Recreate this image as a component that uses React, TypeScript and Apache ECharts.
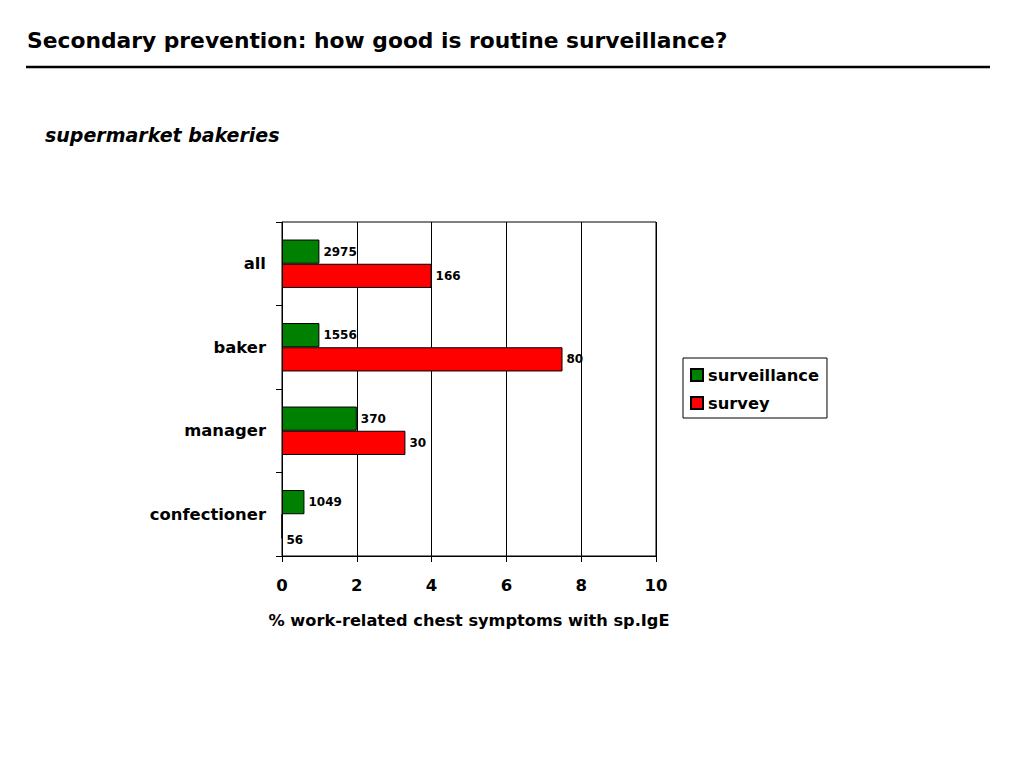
import React, { useEffect, useRef } from "react";
import * as echarts from "echarts";

const categories = ["all", "baker", "manager", "confectioner"];
const surveillanceValues = [1.0, 1.0, 2.0, 0.6];
const surveyValues = [4.0, 7.5, 3.3, 0];
const surveillanceN = ["2975", "1556", "370", "1049"];
const surveyN = ["166", "80", "30", "56"];
const seriesNames = ["surveillance", "survey"];
const xTicks = [0, 2, 4, 6, 8, 10];

const FONT = "'DejaVu Sans', sans-serif";

export default function App() {
  const ref = useRef<HTMLDivElement>(null);
  useEffect(() => {
    if (!ref.current) return;
    const chart = echarts.init(ref.current, null, { renderer: "svg" });
    const labelStyle = {
      show: true,
      position: "right",
      distance: 4,
      color: "#000",
      fontFamily: FONT,
      fontWeight: "bold",
      fontSize: 12,
    };
    chart.setOption({
      animation: false,
      backgroundColor: "#fff",
      textStyle: { fontFamily: FONT },
      graphic: [
        {
          type: "text",
          left: 27,
          top: 29,
          style: {
            text: "Secondary prevention: how good is routine surveillance?",
            fontFamily: FONT,
            fontWeight: "bold",
            fontSize: 21.8,
            fill: "#000",
          },
        },
        {
          type: "line",
          shape: { x1: 26, y1: 67, x2: 990, y2: 67 },
          style: { stroke: "#000", lineWidth: 2.5 },
        },
        {
          type: "text",
          left: 45,
          top: 125,
          style: {
            text: "supermarket bakeries",
            fontFamily: FONT,
            fontWeight: "bold",
            fontStyle: "italic",
            fontSize: 19,
            fill: "#000",
          },
        },
      ],
      legend: {
        orient: "vertical",
        left: 683,
        top: 358,
        data: seriesNames,
        borderColor: "#000",
        borderWidth: 1,
        padding: [7, 6, 5, 7],
        itemWidth: 12,
        itemHeight: 12,
        itemGap: 8,
        icon: "rect",
        textStyle: {
          fontFamily: FONT,
          fontWeight: "bold",
          fontSize: 16.3,
          lineHeight: 20,
          color: "#000",
          padding: [0, 2, 0, 0],
        },
      },
      grid: {
        left: 282,
        top: 222,
        width: 374,
        height: 334,
        show: true,
        borderColor: "#000",
        borderWidth: 1,
        containLabel: false,
      },
      xAxis: {
        type: "value",
        min: 0,
        max: 10,
        interval: 2,
        name: "% work-related chest symptoms with sp.IgE",
        nameLocation: "middle",
        nameGap: 56,
        nameTextStyle: {
          fontFamily: FONT,
          fontWeight: "bold",
          fontSize: 16.2,
          color: "#000",
        },
        axisLine: { show: true, lineStyle: { color: "#000", width: 1 } },
        axisTick: { show: true, length: 6, lineStyle: { color: "#000" } },
        axisLabel: {
          margin: 21,
          fontFamily: FONT,
          fontWeight: "bold",
          fontSize: 16.5,
          color: "#000",
          formatter: (v: number) => (xTicks.includes(v) ? String(v) : ""),
        },
        splitLine: { show: true, lineStyle: { color: "#000", width: 1 } },
      },
      yAxis: {
        type: "category",
        data: categories,
        inverse: true,
        axisLine: { show: true, lineStyle: { color: "#000", width: 1 } },
        axisTick: { show: true, length: 6, lineStyle: { color: "#000" } },
        axisLabel: {
          margin: 16,
          fontFamily: FONT,
          fontWeight: "bold",
          fontSize: 16.4,
          color: "#000",
          padding: [4, 0, 0, 0],
        },
      },
      series: [
        {
          name: seriesNames[0],
          type: "bar",
          data: surveillanceValues,
          barGap: "0%",
          barCategoryGap: "42%",
          itemStyle: { color: "#008000", borderColor: "#000", borderWidth: 1 },
          label: {
            ...labelStyle,
            formatter: (p: any) => surveillanceN[p.dataIndex],
          },
        },
        {
          name: seriesNames[1],
          type: "bar",
          data: surveyValues.map((v) =>
            v === 0 ? { value: v, label: { offset: [0, 14] } } : v
          ),
          barGap: "0%",
          barCategoryGap: "42%",
          itemStyle: { color: "#ff0000", borderColor: "#000", borderWidth: 1 },
          label: {
            ...labelStyle,
            formatter: (p: any) => surveyN[p.dataIndex],
          },
        },
      ],
    });
    return () => chart.dispose();
  }, []);
  return (
    <div
      ref={ref}
      style={{ position: "fixed", left: 0, top: 0, width: 1024, height: 768 }}
    />
  );
}
